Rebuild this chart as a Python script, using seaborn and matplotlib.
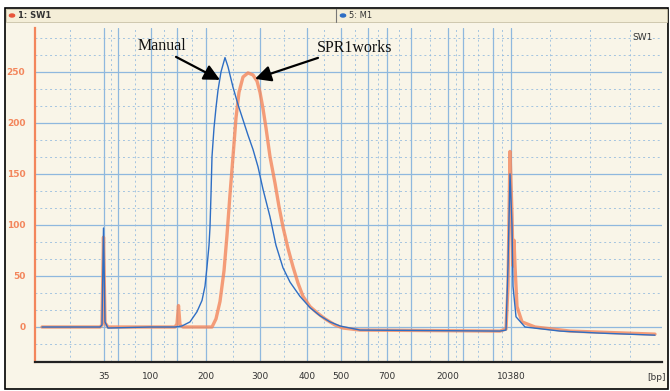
import numpy as np
import pandas as pd
import seaborn as sns
import matplotlib.pyplot as plt
from matplotlib.patches import Rectangle, Circle
from matplotlib.lines import Line2D

# migration time (s) and fluorescence
manual_t = [20.7, 26.5, 26.7, 26.85, 27.0, 27.3, 31.5, 34.0, 34.7, 35.5, 36.2, 36.7,
            37.0, 37.2, 37.4, 37.5, 37.6, 37.7, 37.9, 38.1, 38.3, 38.6, 39.0,
            39.3, 39.8, 40.3, 40.8, 41.3, 41.8, 42.3, 42.8, 43.5, 44.1, 44.8, 45.5,
            46.5, 47.5, 48.5, 49.5, 50.5, 52.5, 66.5, 67.1, 67.3, 67.5, 67.7, 67.8,
            68.1, 69.0, 72.5, 76.5, 82.0]
manual_fu = [0, 0, 2, 97, 5, -1, 0, 0, 1, 5, 15, 26,
             40, 59, 80, 98, 130, 167, 195, 215, 232, 250, 264,
             255, 235, 218, 203, 188, 174, 157, 135, 108, 80, 58, 44,
             30, 19, 11, 5, 1, -3, -4, -3, 60, 150, 100, 40,
             10, 0, -4, -6, -8]

spri_t = [20.7, 26.5, 26.7, 26.85, 27.0, 27.3, 34.0, 34.2, 34.35, 34.5, 34.8, 37.7,
          38.1, 38.5, 38.9, 39.2, 39.5, 39.8, 40.1, 40.4, 40.8, 41.3, 41.8, 42.2,
          42.5, 42.8, 43.1, 43.5, 44.0, 44.4, 44.8, 45.3, 45.8, 46.3, 46.8, 47.5,
          48.2, 49.0, 50.0, 50.8, 52.5, 66.5, 67.1, 67.3, 67.5, 67.7, 67.8, 67.9,
          68.0, 68.2, 68.7, 70.0, 73.5, 82.0]
spri_fu = [0, 0, 2, 88, 4, 0, 0, 3, 21, 2, 0, 0,
           8, 25, 55, 90, 130, 167, 205, 230, 245, 249, 247, 241,
           230, 214, 195, 167, 141, 118, 98, 77, 59, 43, 30, 20,
           14, 8, 2, -1, -3, -4, -2, 40, 172, 110, 60, 85,
           60, 20, 5, 0, -4, -7]

ladder_t = [26.9, 28.3, 31.6, 34.2, 37.1, 42.5, 47.2, 50.6, 53.3, 55.2, 57.6,
            61.3, 62.8, 65.8, 67.6]
ladder_lbl = ['35', '', '100', '', '200', '300', '400', '500', '', '700', '',
              '2000', '', '', '10380']
fu_ticks = [0, 50, 100, 150, 200, 250]

blue = '#2e6ec4'
orange = '#f3865c'
grid_blue = '#8fb8de'
cream = '#f9f5e8'

df = pd.concat([
    pd.DataFrame({'t': spri_t, 'fu': spri_fu, 'sample': '1: SW1'}),
    pd.DataFrame({'t': manual_t, 'fu': manual_fu, 'sample': '5: M1'}),
])

sns.set_style('white')
W, H = 670, 391
fig = plt.figure(figsize=(W / 100, H / 100), dpi=100)
fig.patch.set_facecolor('white')

# outer frame and header strip (figure pixel coords -> fraction)
def fx(px): return px / W
def fy(py): return 1 - py / H

fig.patches.append(Rectangle((fx(5), fy(389)), fx(663), 381 / H, transform=fig.transFigure,
                             facecolor=cream, edgecolor='black', lw=1.2, zorder=-2))
fig.patches.append(Rectangle((fx(6), fy(22)), fx(661), 13 / H, transform=fig.transFigure,
                             facecolor='#f4eed8', edgecolor='#c9c2a8', lw=0.6, zorder=-1))
fig.add_artist(Line2D([fx(336), fx(336)], [fy(22), fy(9)], color='#777777', lw=0.8))
fig.patches.append(Circle((fx(12), fy(15.5)), 2.6 / W, transform=fig.transFigure,
                          color='#e8553a', zorder=3))
fig.patches.append(Circle((fx(343), fy(15.5)), 2.6 / W, transform=fig.transFigure,
                          color=blue, zorder=3))
fig.text(fx(18), fy(15.5), '1: SW1', fontsize=6, fontweight='bold', va='center', color='#333333')
fig.text(fx(349), fy(15.5), '5: M1', fontsize=6, va='center', color='#333333')

ax = fig.add_axes([fx(35), fy(362), fx(627), 334 / H])
ax.set_zorder(2)
ax.set_facecolor(cream)

sns.lineplot(data=df[df['sample'] == '1: SW1'], x='t', y='fu', color=orange,
             lw=2.4, alpha=0.8, sort=False, legend=False, ax=ax, zorder=3)
sns.lineplot(data=df[df['sample'] == '5: M1'], x='t', y='fu', color=blue,
             lw=1.0, sort=False, legend=False, ax=ax, zorder=4)

ax.set_xlim(20, 82.7)
ax.set_ylim(-34.3, 293)

ax.set_xticks(ladder_t)
ax.set_xticklabels(ladder_lbl, fontsize=6.5, color='#333333')
mids = [(a + b) / 2 for a, b in zip(ladder_t[:-1], ladder_t[1:])] + [71.5, 75.5, 79.5, 23.5]
ax.set_xticks(mids, minor=True)
ax.set_yticks(fu_ticks)
ax.set_yticklabels([str(v) for v in fu_ticks], fontsize=6.5, color=orange, fontweight='bold')
ax.set_yticks([v + d for v in range(-50, 300, 50) for d in (50 / 3, 100 / 3)], minor=True)

ax.grid(which='major', color=grid_blue, lw=0.9)
ax.grid(which='minor', color=grid_blue, lw=0.7, ls=(0, (2, 3)), alpha=0.8)
ax.tick_params(axis='x', which='major', direction='inout', length=6, width=0.8,
               color='#333333', pad=4)
ax.tick_params(axis='x', which='minor', length=0)
ax.tick_params(axis='y', which='major', direction='out', length=4, width=1.2,
               color=orange, pad=3)
ax.tick_params(axis='y', which='minor', length=0)

for s in ['top', 'right']:
    ax.spines[s].set_visible(False)
ax.spines['bottom'].set_color('#222222')
ax.spines['bottom'].set_linewidth(1.6)
ax.spines['left'].set_color(orange)
ax.spines['left'].set_linewidth(1.6)
ax.set_xlabel('')
ax.set_ylabel('')

ax.text(0.985, 0.985, 'SW1', transform=ax.transAxes, ha='right', va='top',
        fontsize=6.5, color='#333333')
fig.text(fx(656), fy(377), '[bp]', fontsize=6.5, ha='center', va='center', color='#333333')

# px -> data helpers for the callouts
def tx(px): return 20 + (px - 35) / 10
def ty(py): return (327 - py) / 1.02

arrow = dict(arrowstyle='-|>', mutation_scale=24, lw=1.6, color='black',
             shrinkA=0, shrinkB=0)
ax.annotate('', xy=(tx(220), ty(80)), xytext=(tx(176), ty(57)), arrowprops=arrow, zorder=6)
ax.annotate('', xy=(tx(255), ty(79)), xytext=(tx(318), ty(58)), arrowprops=arrow, zorder=6)
ax.text(tx(162), ty(46), 'Manual', family='Liberation Serif', fontsize=11.5,
        ha='center', va='center', color='#111111', zorder=6)
ax.text(tx(355), ty(48), 'SPR1works', family='Liberation Serif', fontsize=11.5,
        ha='center', va='center', color='#111111', zorder=6)

fig.savefig('out.png', dpi=100, facecolor=fig.get_facecolor())
